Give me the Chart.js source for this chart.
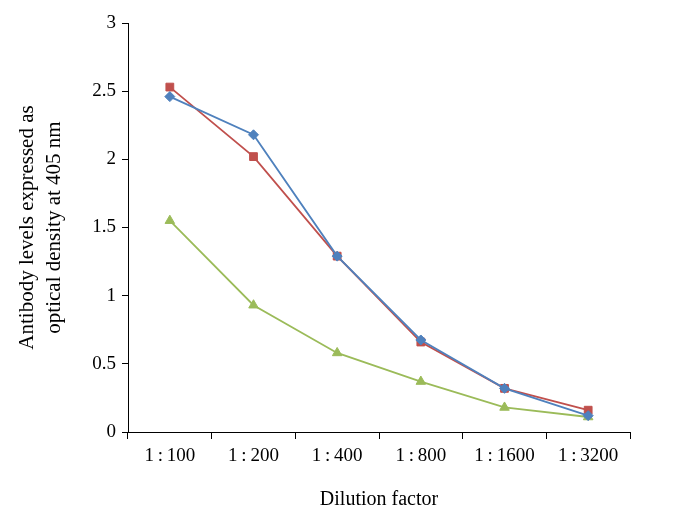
<!DOCTYPE html>
<html>
<head>
<meta charset="utf-8">
<script src="https://cdn.jsdelivr.net/npm/chart.js@4.4.0/dist/chart.umd.min.js"></script>
<style>
  html, body { margin: 0; padding: 0; background: #fff; overflow: hidden; }
  #wrap { width: 688px; height: 518px; }
</style>
</head>
<body>
<div id="wrap"><canvas id="myChart" width="688" height="518"></canvas></div>
<script>
var dilutions = ['1\u2009:\u2009100', '1\u2009:\u2009200', '1\u2009:\u2009400', '1\u2009:\u2009800', '1\u2009:\u20091600', '1\u2009:\u20093200'];
var seriesBlue = [2.46, 2.18, 1.29, 0.675, 0.32, 0.12];
var seriesRed = [2.53, 2.02, 1.29, 0.66, 0.32, 0.16];
var seriesGreen = [1.55, 0.93, 0.58, 0.37, 0.18, 0.11];

var serif = "'Liberation Serif', 'DejaVu Serif', serif";

function makeSet(label, values, color, shape, size) {
  return {
    label: label,
    data: values,
    borderColor: color,
    backgroundColor: color,
    borderWidth: 1.8,
    pointStyle: shape,
    pointRadius: size,
    pointBorderWidth: 1,
    tension: 0
  };
}

const config = {
  type: 'line',
  data: {
    labels: dilutions,
    datasets: [
      makeSet('Series 1', seriesBlue, '#4F81BD', 'rectRot', 5),
      makeSet('Series 2', seriesRed, '#C0504D', 'rect', 5.5),
      makeSet('Series 3', seriesGreen, '#9BBB59', 'triangle', 5.5)
    ]
  },
  options: {
    responsive: false,
    animation: false,
    layout: { padding: { top: 23, right: 58, left: 0, bottom: 0 } },
    plugins: { legend: { display: false }, tooltip: { enabled: false } },
    scales: {
      x: {
        offset: true,
        grid: { offset: true, drawOnChartArea: false, color: '#000', tickLength: 7, tickColor: '#000' },
        border: { color: '#000', width: 1 },
        ticks: { color: '#000', font: { family: serif, size: 19 }, padding: 6, maxRotation: 0 },
        title: { display: true, text: 'Dilution factor', color: '#000', font: { family: serif, size: 20 }, padding: { top: 15, bottom: 6 } },
        afterFit: function (scale) { scale.height = 86; }
      },
      y: {
        min: 0,
        max: 3,
        ticks: {
          stepSize: 0.5,
          color: '#000',
          font: { family: serif, size: 19 },
          padding: 6,
          callback: function (v) { return String(v); }
        },
        grid: { drawOnChartArea: false, color: '#000', tickLength: 6, tickColor: '#000' },
        border: { color: '#000', width: 1 },
        title: {
          display: true,
          text: ['Antibody levels expressed as', 'optical density at 405 nm'],
          color: '#000',
          font: { family: serif, size: 21, lineHeight: 1.3 },
          padding: { top: 14, bottom: 10 }
        },
        afterFit: function (scale) { scale.width = 128; }
      }
    }
  }
};

const myChart = new Chart(document.getElementById('myChart'), config);
</script>
</body>
</html>
